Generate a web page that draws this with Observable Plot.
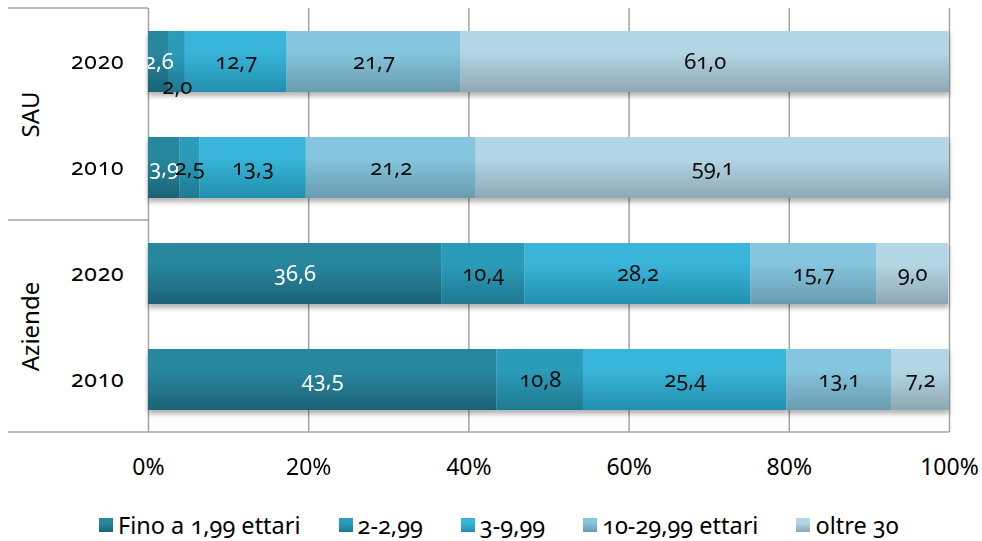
<!DOCTYPE html>
<html>
<head>
<meta charset="utf-8">
<script src="https://cdn.jsdelivr.net/npm/d3@7"></script>
<script src="https://cdn.jsdelivr.net/npm/@observablehq/plot@0.6"></script>
<style>
  html, body { margin: 0; padding: 0; background: #fff; }
  body { font-family: "Noto Sans", sans-serif; width: 982px; height: 541px; overflow: hidden; }
  #chart svg { display: block; font-variant-numeric: oldstyle-nums; }
  #chart svg [aria-label="y-axis tick label"] text { letter-spacing: 0.8px; }
  div.lg-swatches {
    font-family: "Noto Sans", sans-serif !important;
    font-size: 23.5px !important;
    color: #000 !important;
    margin: 14px 0 0 99px !important;
    min-height: 0 !important;
    font-variant-numeric: oldstyle-nums;
  }
  div.lg-swatches span.lg-swatch { margin-right: 38px !important; }
  div.lg-swatches span.lg-swatch > svg { margin-right: 5px !important; }
</style>
</head>
<body>
<div id="chart"></div>
<script>
// ---- data ----
const groups = ["SAU", "Aziende"];
const years = ["2020", "2010"];
const classes = ["Fino a 1,99 ettari", "2-2,99", "3-9,99", "10-29,99 ettari", "oltre 30"];
const sau2020 = [2.6, 2.0, 12.7, 21.7, 61.0];
const sau2010 = [3.9, 2.5, 13.3, 21.2, 59.1];
const aziende2020 = [36.6, 10.4, 28.2, 15.7, 9.0];
const aziende2010 = [43.5, 10.8, 25.4, 13.1, 7.2];
const xTicks = [0, 20, 40, 60, 80, 100];

// ---- styles ----
const FONT = '"Noto Sans", sans-serif';
const topColors = ["#27879f", "#2b9cba", "#37b5d9", "#85c5dd", "#b3d6e5"];
const bottomColors = ["#1c6276", "#1f7990", "#238fae", "#6a9caf", "#8ea8b4"];
const gradIds = classes.map((c, i) => `grad${i}`);

const series = {SAU: {"2020": sau2020, "2010": sau2010}, Aziende: {"2020": aziende2020, "2010": aziende2010}};
const rows = [];
for (const g of groups) for (const y of years) series[g][y].forEach((v, i) => rows.push({group: g, year: y, cls: classes[i], value: v}));

const lbl = d => d.value.toFixed(1).replace(".", ",");
const shifted = d => d.group === "SAU" && d.year === "2020" && d.cls === classes[1];
const stackOpts = extra => Plot.stackX({x: "value", y: "year", fy: "group", text: lbl, fontSize: 22, clip: "frame", ...extra});

const W = 982, H = 495, ML = 148, MR = 33, MT = 8, MB = 63;

const plot = Plot.plot({
  width: W, height: H,
  marginLeft: ML, marginRight: MR, marginTop: MT, marginBottom: MB,
  style: {fontFamily: FONT, fontSize: "20px", color: "#000", background: "transparent", overflow: "visible"},
  x: {domain: [0, 100]},
  y: {domain: years, paddingInner: 0.425, paddingOuter: 0.2125},
  fy: {domain: groups, padding: 0, axis: null},
  color: {domain: classes, range: gradIds.map(id => `url(#${id})`)},
  marks: [
    Plot.ruleX(xTicks, {stroke: "#a3a3a3", strokeWidth: 1.5}),
    Plot.barX(rows, Plot.stackX({x: "value", y: "year", fy: "group", fill: "cls", insetLeft: 0, insetRight: 0})),
    Plot.text(rows, Plot.filter(d => d.cls === classes[0], stackOpts({fill: "white"}))),
    Plot.text(rows, Plot.filter(d => d.cls !== classes[0] && !shifted(d), stackOpts({fill: "#0d0d0d"}))),
    Plot.text(rows, Plot.filter(shifted, stackOpts({fill: "#0d0d0d", dy: 25}))),
    Plot.axisY({tickSize: 0, tickPadding: 24, fontSize: 23, label: null}),
    Plot.axisX(xTicks, {tickFormat: d => d + "%", tickSize: 0, tickPadding: 26, fontSize: 23, label: null}),
    Plot.text(groups, {fy: d => d, text: d => d, frameAnchor: "left", textAnchor: "middle", dx: -117, rotate: -90, fontSize: 24, fill: "#000"})
  ]
});

// gradients, shadow, and left frame lines
const svg = d3.select(plot);
const defs = svg.insert("defs", ":first-child");
gradIds.forEach((id, i) => {
  const g = defs.append("linearGradient").attr("id", id).attr("x1", 0).attr("y1", 0).attr("x2", 0).attr("y2", 1);
  g.append("stop").attr("offset", "0%").attr("stop-color", topColors[i]);
  g.append("stop").attr("offset", "35%").attr("stop-color", topColors[i]);
  g.append("stop").attr("offset", "100%").attr("stop-color", bottomColors[i]);
});
const f = defs.append("filter").attr("id", "shadow").attr("x", "-5%").attr("y", "-20%").attr("width", "110%").attr("height", "150%");
f.append("feDropShadow").attr("dx", 0).attr("dy", 4).attr("stdDeviation", 2.5).attr("flood-color", "#000").attr("flood-opacity", 0.3);
svg.selectAll('g[aria-label="bar"]').attr("filter", "url(#shadow)");

const plotBottom = H - MB, plotMid = (MT + plotBottom) / 2;
const lines = svg.append("g").attr("stroke", "#a3a3a3").attr("stroke-width", 1.5);
[MT, plotMid].forEach(yy => lines.append("line").attr("x1", 8).attr("x2", ML).attr("y1", yy).attr("y2", yy));
lines.append("line").attr("x1", 8).attr("x2", W - MR).attr("y1", plotBottom).attr("y2", plotBottom);

document.getElementById("chart").append(plot);

const legend = Plot.legend({
  color: {domain: classes, range: gradIds.map(id => `url(#${id})`)},
  legend: "swatches", swatchSize: 14, className: "lg"
});
document.getElementById("chart").append(legend);
</script>
</body>
</html>
